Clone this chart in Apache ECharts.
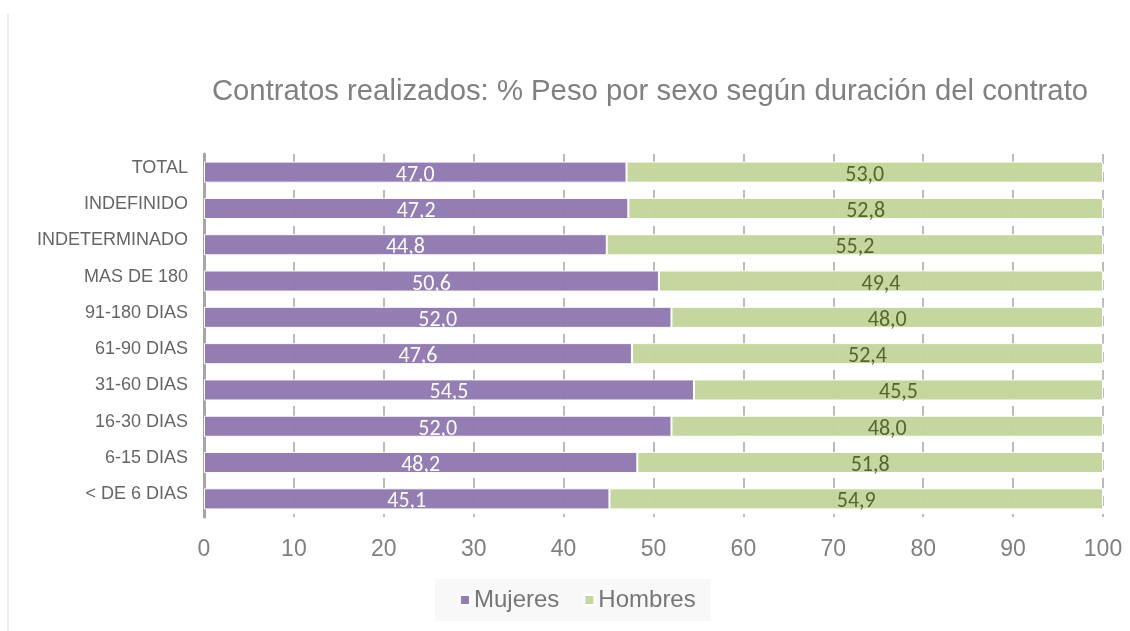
<!DOCTYPE html>
<html>
<head>
<meta charset="utf-8">
<script src="https://cdn.jsdelivr.net/npm/echarts@6/dist/echarts.min.js"></script>
<style>
  html, body { margin: 0; padding: 0; background: #fff; }
  #chart { width: 1130px; height: 631px; }
</style>
</head>
<body>
<div id="chart"></div>
<script>
// Duración del contrato (de arriba abajo)
const categories = ['TOTAL', 'INDEFINIDO', 'INDETERMINADO', 'MAS DE 180', '91-180 DIAS',
  '61-90 DIAS', '31-60 DIAS', '16-30 DIAS', '6-15 DIAS', '< DE 6 DIAS'];
const mujeres = [47.0, 47.2, 44.8, 50.6, 52.0, 47.6, 54.5, 52.0, 48.2, 45.1];
const hombres = [53.0, 52.8, 55.2, 49.4, 48.0, 52.4, 45.5, 48.0, 51.8, 54.9];
const xTicks = [0, 10, 20, 30, 40, 50, 60, 70, 80, 90, 100];

const fmt = v => v.toFixed(1).replace('.', ',');

const chart = echarts.init(document.getElementById('chart'));
chart.setOption({
  backgroundColor: '#ffffff',
  animation: false,
  title: {
    text: 'Contratos realizados: % Peso por sexo según duración del contrato',
    left: 645, top: 72, textAlign: 'center',
    textStyle: { fontFamily: 'Liberation Sans', fontSize: 29.3, fontWeight: 'normal', color: '#808080' }
  },
  legend: {
    bottom: 10, left: 435,
    itemWidth: 10, itemHeight: 10, itemGap: 24,
    padding: [9, 15, 9, 24],
    backgroundColor: '#f8f8f8',
    textStyle: { fontFamily: 'Liberation Sans', fontSize: 24, color: '#767676', padding: [0, 0, 0, -1] },
    icon: 'rect',
    data: ['Mujeres', 'Hombres']
  },
  grid: { left: 204, right: 27, top: 154, bottom: 114, containLabel: false },
  xAxis: {
    type: 'value', min: xTicks[0], max: xTicks[xTicks.length - 1], interval: 10,
    axisLine: { show: false },
    axisTick: { show: false },
    axisLabel: { fontFamily: 'Liberation Sans', fontSize: 23, color: '#808080', margin: 21 },
    splitLine: { show: true, lineStyle: { color: '#a6a6a6', width: 1.5, type: [10, 8] } }
  },
  yAxis: {
    type: 'category', data: categories, inverse: true,
    axisLine: { show: true, lineStyle: { color: '#a6a6a6', width: 3 } },
    axisTick: { show: false },
    axisLabel: {
      fontFamily: 'Liberation Sans', fontSize: 18, color: '#666666', margin: 16,
      verticalAlign: 'bottom', lineHeight: 9
    }
  },
  series: [
    {
      name: 'Mujeres', type: 'bar', stack: 'total', data: mujeres, barWidth: '58%',
      itemStyle: { color: '#8f79af', borderColor: '#ffffff', borderWidth: 1, opacity: 0.97 },
      label: {
        show: true, position: 'inside', offset: [0, 3], formatter: p => fmt(p.value),
        fontFamily: 'Carlito, Lato, Liberation Sans', fontSize: 22, color: '#ffffff'
      }
    },
    {
      name: 'Hombres', type: 'bar', stack: 'total', data: hombres, barWidth: '58%',
      itemStyle: { color: '#c3d69b', borderColor: '#ffffff', borderWidth: 1, opacity: 0.97 },
      label: {
        show: true, position: 'inside', offset: [0, 3], formatter: p => fmt(p.value),
        fontFamily: 'Carlito, Lato, Liberation Sans', fontSize: 22, color: '#4f6228'
      }
    }
  ],
  graphic: [
    { type: 'line', shape: { x1: 8, y1: 14, x2: 8, y2: 631 }, style: { stroke: '#ececec', lineWidth: 2 } }
  ]
});
</script>
</body>
</html>
